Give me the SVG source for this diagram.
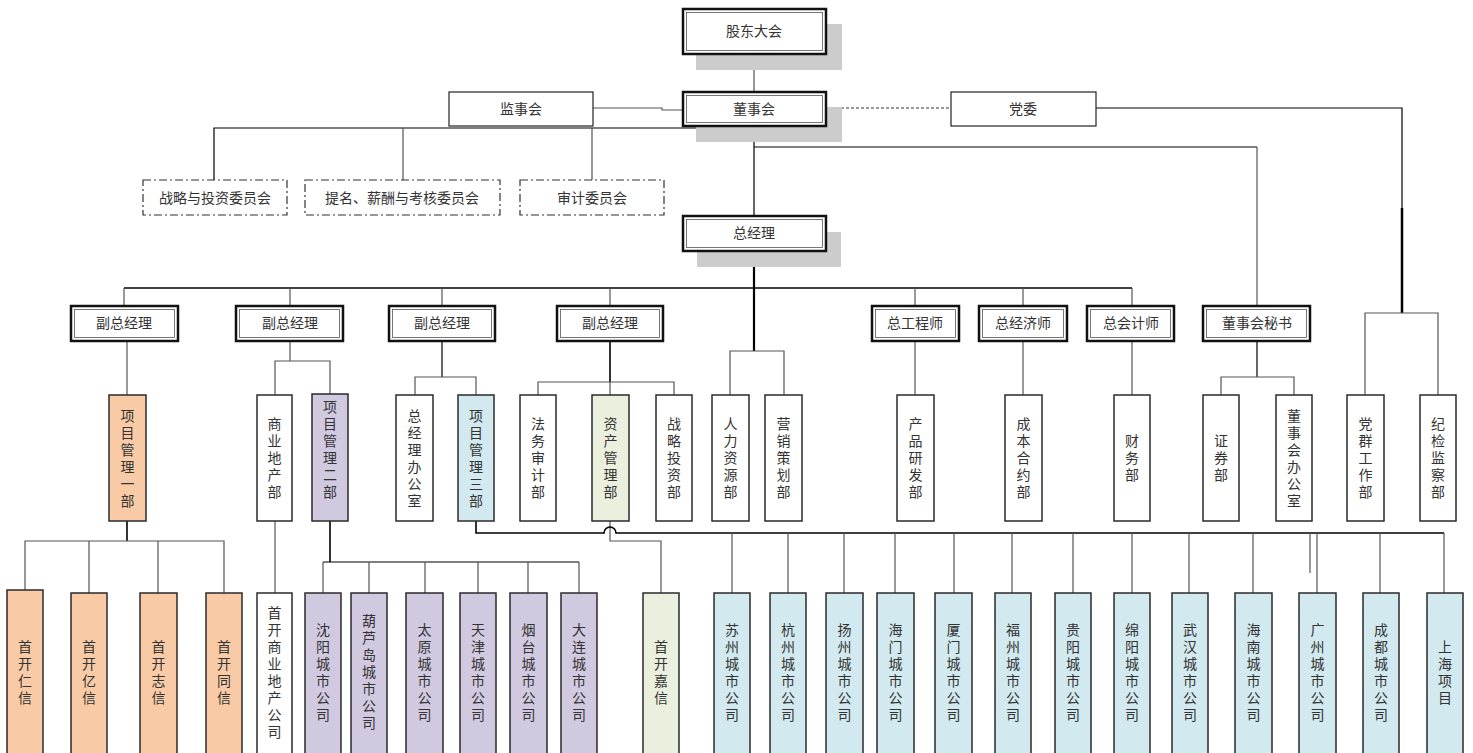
<svg xmlns="http://www.w3.org/2000/svg" width="1473" height="753" viewBox="0 0 1473 753">
<style>
.t{font-family:"Noto Sans CJK SC","Noto Sans CJK JP",sans-serif;font-size:14px;fill:#333;text-anchor:middle}
.v{font-family:"Noto Sans CJK SC","Noto Sans CJK JP",sans-serif;font-size:14px;fill:#333;text-anchor:middle;writing-mode:vertical-rl;text-orientation:upright;letter-spacing:3px}
.sh{fill:#cccccc}
.ob{fill:#fff;stroke:#111;stroke-width:2.5}
.ib{fill:none;stroke:#555;stroke-width:0.8}
.sb{fill:#fff;stroke:#222;stroke-width:1.2}
.cm{fill:#fff;stroke:#333;stroke-width:1.2;stroke-dasharray:8 3 2 3}
.d{stroke:#2a2a2a;stroke-width:1.5}
.w{fill:#fff}.o{fill:#f8cba6}.p{fill:#d1c9e0}.b{fill:#d2e9ef}.g{fill:#ebf0de}
.bus{stroke:#000;stroke-width:1.6;fill:none}
.ln{stroke:#555;stroke-width:1.2;fill:none}
.dl{stroke:#333;stroke-width:1;fill:none;stroke-dasharray:3 2}
</style>

<g id="connectors">
  <path class="ln" d="M754,54 V92"/>
  <path class="ln" d="M593,108 H662 V110 H683"/>
  <path class="dl" d="M826,108 H951"/>
  <path class="bus" style="stroke-width:1.2" d="M214,180 V128 H754"/>
  <path class="ln" d="M403,128 V180 M592,128 V180"/>
  <path class="bus" style="stroke-width:1.2" d="M754,126 V216"/>
  <path class="bus" style="stroke-width:1.2" d="M754,147 H1257"/>
  <path class="ln" d="M1257,147 V306"/>
  <path class="bus" style="stroke-width:1.2" d="M1096,108 H1402 V208"/>
  <path class="bus" style="stroke-width:2.5" d="M1402,208 V313"/>
  <path class="ln" d="M1365,395 V313 H1438 V395"/>
  <path class="bus" style="stroke-width:2.2" d="M754,250 V351"/>
  <path class="bus" d="M124,288 H1132"/>
  <path class="ln" d="M124,288 V306 M290,288 V306 M442,288 V306 M610,288 V306 M915,288 V306 M1023,288 V306 M1132,288 V306"/>
  <path class="ln" d="M127,341 V395"/>
  <path class="ln" d="M290,341 V361 M275,395 V361 H330 V394"/>
  <path class="bus" style="stroke-width:1.2" d="M442,341 V377"/>
  <path class="ln" d="M415,395 V377 H476 V395"/>
  <path class="bus" d="M610,341 V382"/>
  <path class="ln" d="M538,395 V382 H674 V395 M610,382 V395"/>
  <path class="ln" d="M730,395 V351 H784 V395"/>
  <path class="ln" d="M915,341 V395 M1023,341 V395 M1132,341 V395"/>
  <path class="bus" style="stroke-width:1.2" d="M1257,341 V377"/>
  <path class="ln" d="M1221,395 V377 H1294 V395"/>
  <path class="bus" d="M127,521 V541"/>
  <path class="ln" d="M25,590 V541 H224 V593 M89,541 V593 M158,541 V593"/>
  <path class="ln" d="M275,521 V593"/>
  <path class="bus" d="M330,521 V562"/>
  <path class="bus" style="stroke-width:1.2" d="M323,562 H579"/>
  <path class="ln" d="M323,562 V593 M369,562 V593 M425,562 V593 M478,562 V593 M528,562 V593 M579,562 V593"/>
  <path class="ln" d="M610,521 V541 H661 V593"/>
  <path class="bus" d="M476,521 V533 H604 A6,6 0 0 1 616,533 H1444"/>
  <path class="ln" d="M732,533 V593 M788,533 V593 M844,533 V593 M895,533 V593 M954,533 V593 M1012,533 V593 M1073,533 V593 M1132,533 V593 M1189,533 V593 M1253,533 V593 M1317,533 V593 M1380,533 V593 M1444,533 V593"/>
  <path class="ln" d="M1310,533 V573"/>
</g>

<g id="gdh">
  <rect class="sh" x="696" y="24" width="146" height="46"/>
  <rect class="ob" x="683" y="9" width="143" height="45"/>
  <rect class="ib" x="686.5" y="12.5" width="136" height="38"/>
  <text class="t" x="754" y="36">股东大会</text>
</g>
<g id="dsh">
  <rect class="sh" x="696" y="107" width="146" height="35"/>
  <rect class="ob" x="683" y="92" width="143" height="34"/>
  <rect class="ib" x="686.5" y="95.5" width="136" height="27"/>
  <text class="t" x="754" y="114">董事会</text>
</g>
<g id="jsh">
  <rect class="sb" x="449" y="92" width="144" height="34"/>
  <text class="t" x="521" y="114">监事会</text>
</g>
<g id="dw">
  <rect class="sb" x="951" y="92" width="145" height="34"/>
  <text class="t" x="1023" y="114">党委</text>
</g>
<g id="c1">
  <rect class="cm" x="143" y="180" width="144" height="35"/>
  <text class="t" x="215" y="203">战略与投资委员会</text>
</g>
<g id="c2">
  <rect class="cm" x="305" y="180" width="195" height="35"/>
  <text class="t" x="402" y="203">提名、薪酬与考核委员会</text>
</g>
<g id="c3">
  <rect class="cm" x="520" y="180" width="144" height="35"/>
  <text class="t" x="592" y="203">审计委员会</text>
</g>
<g id="zjl">
  <rect class="sh" x="697" y="232" width="144" height="35"/>
  <rect class="ob" x="683" y="216" width="143" height="35"/>
  <rect class="ib" x="686.5" y="219.5" width="136" height="28"/>
  <text class="t" x="754" y="238">总经理</text>
</g>

<g id="v1"><rect class="ob" x="71" y="306" width="107" height="35"/><rect class="ib" x="74.5" y="309.5" width="100" height="28"/><text class="t" x="124" y="328">副总经理</text></g>
<g id="v2"><rect class="ob" x="236" y="306" width="107" height="35"/><rect class="ib" x="239.5" y="309.5" width="100" height="28"/><text class="t" x="290" y="328">副总经理</text></g>
<g id="v3"><rect class="ob" x="389" y="306" width="106" height="35"/><rect class="ib" x="392.5" y="309.5" width="99" height="28"/><text class="t" x="442" y="328">副总经理</text></g>
<g id="v4"><rect class="ob" x="557" y="306" width="106" height="35"/><rect class="ib" x="560.5" y="309.5" width="99" height="28"/><text class="t" x="610" y="328">副总经理</text></g>
<g id="zgcs"><rect class="ob" x="872" y="306" width="87" height="35"/><rect class="ib" x="875.5" y="309.5" width="80" height="28"/><text class="t" x="915" y="328">总工程师</text></g>
<g id="zjjs"><rect class="ob" x="979" y="306" width="88" height="35"/><rect class="ib" x="982.5" y="309.5" width="81" height="28"/><text class="t" x="1023" y="328">总经济师</text></g>
<g id="zkjs"><rect class="ob" x="1087" y="306" width="87" height="35"/><rect class="ib" x="1090.5" y="309.5" width="80" height="28"/><text class="t" x="1131" y="328">总会计师</text></g>
<g id="dms"><rect class="ob" x="1203" y="306" width="107" height="35"/><rect class="ib" x="1206.5" y="309.5" width="100" height="28"/><text class="t" x="1257" y="328">董事会秘书</text></g>

<g id="xm1"><rect class="d o" x="109" y="395" width="37" height="126"/><text class="v" x="127.5" y="459.5">项目管理一部</text></g>
<g id="sydc"><rect class="d w" x="257" y="395" width="35" height="126"/><text class="v" x="274.5" y="459.5">商业地产部</text></g>
<g id="xm2"><rect class="d p" x="312" y="394" width="36" height="127"/><text class="v" x="330" y="450.5">项目管理二部</text></g>
<g id="zjlb"><rect class="d w" x="396" y="395" width="37" height="126"/><text class="v" x="414.5" y="459.5">总经理办公室</text></g>
<g id="xm3"><rect class="d b" x="458" y="395" width="36" height="126"/><text class="v" x="476" y="459.5">项目管理三部</text></g>
<g id="fwsj"><rect class="d w" x="520" y="395" width="36" height="126"/><text class="v" x="538" y="459.5">法务审计部</text></g>
<g id="zcgl"><rect class="d g" x="592" y="395" width="37" height="126"/><text class="v" x="610.5" y="459.5">资产管理部</text></g>
<g id="zltz"><rect class="d w" x="656" y="395" width="36" height="126"/><text class="v" x="674" y="459.5">战略投资部</text></g>
<g id="rlzy"><rect class="d w" x="712" y="395" width="37" height="126"/><text class="v" x="730.5" y="459.5">人力资源部</text></g>
<g id="yxch"><rect class="d w" x="765" y="395" width="37" height="126"/><text class="v" x="783.5" y="459.5">营销策划部</text></g>
<g id="cpyf"><rect class="d w" x="897" y="395" width="37" height="126"/><text class="v" x="915.5" y="459.5">产品研发部</text></g>
<g id="cbhy"><rect class="d w" x="1005" y="395" width="37" height="126"/><text class="v" x="1023.5" y="459.5">成本合约部</text></g>
<g id="cwb"><rect class="d w" x="1114" y="395" width="36" height="126"/><text class="v" x="1132" y="459.5">财务部</text></g>
<g id="zqb"><rect class="d w" x="1203" y="395" width="36" height="126"/><text class="v" x="1221" y="459.5">证券部</text></g>
<g id="dshb"><rect class="d w" x="1276" y="395" width="36" height="126"/><text class="v" x="1294" y="459.5">董事会办公室</text></g>
<g id="dqgz"><rect class="d w" x="1347" y="395" width="37" height="126"/><text class="v" x="1365.5" y="459.5">党群工作部</text></g>
<g id="jjjc"><rect class="d w" x="1420" y="395" width="36" height="126"/><text class="v" x="1438" y="459.5">纪检监察部</text></g>

<g id="rx"><rect class="d o" x="7" y="590" width="36" height="170"/><text class="v" x="25" y="673.5">首开仁信</text></g>
<g id="yx"><rect class="d o" x="71" y="593" width="36" height="167"/><text class="v" x="89" y="673.5">首开亿信</text></g>
<g id="zx"><rect class="d o" x="140" y="593" width="37" height="167"/><text class="v" x="158.5" y="673.5">首开志信</text></g>
<g id="tx"><rect class="d o" x="206" y="593" width="36" height="167"/><text class="v" x="224" y="673.5">首开同信</text></g>
<g id="sysy"><rect class="d w" x="257" y="593" width="35" height="167"/><text class="v" x="274.5" y="673.5">首开商业地产公司</text></g>
<g id="sy"><rect class="d p" x="305" y="593" width="36" height="167"/><text class="v" x="323" y="673.5">沈阳城市公司</text></g>
<g id="hld"><rect class="d p" x="351" y="593" width="36" height="167"/><text class="v" x="369" y="673.5">葫芦岛城市公司</text></g>
<g id="ty"><rect class="d p" x="406" y="593" width="37" height="167"/><text class="v" x="424.5" y="673.5">太原城市公司</text></g>
<g id="tj"><rect class="d p" x="460" y="593" width="36" height="167"/><text class="v" x="478" y="673.5">天津城市公司</text></g>
<g id="yt"><rect class="d p" x="510" y="593" width="37" height="167"/><text class="v" x="528.5" y="673.5">烟台城市公司</text></g>
<g id="dl"><rect class="d p" x="561" y="593" width="36" height="167"/><text class="v" x="579" y="673.5">大连城市公司</text></g>
<g id="jx"><rect class="d g" x="643" y="593" width="36" height="167"/><text class="v" x="661" y="673.5">首开嘉信</text></g>
<g id="suz"><rect class="d b" x="714" y="593" width="36" height="167"/><text class="v" x="732" y="673.5">苏州城市公司</text></g>
<g id="hz"><rect class="d b" x="770" y="593" width="36" height="167"/><text class="v" x="788" y="673.5">杭州城市公司</text></g>
<g id="yz"><rect class="d b" x="826" y="593" width="37" height="167"/><text class="v" x="844.5" y="673.5">扬州城市公司</text></g>
<g id="hm"><rect class="d b" x="877" y="593" width="37" height="167"/><text class="v" x="895.5" y="673.5">海门城市公司</text></g>
<g id="xmc"><rect class="d b" x="935" y="593" width="37" height="167"/><text class="v" x="953.5" y="673.5">厦门城市公司</text></g>
<g id="fz"><rect class="d b" x="995" y="593" width="36" height="167"/><text class="v" x="1013" y="673.5">福州城市公司</text></g>
<g id="gy"><rect class="d b" x="1055" y="593" width="36" height="167"/><text class="v" x="1073" y="673.5">贵阳城市公司</text></g>
<g id="my"><rect class="d b" x="1114" y="593" width="36" height="167"/><text class="v" x="1132" y="673.5">绵阳城市公司</text></g>
<g id="wh"><rect class="d b" x="1172" y="593" width="36" height="167"/><text class="v" x="1190" y="673.5">武汉城市公司</text></g>
<g id="hn"><rect class="d b" x="1235" y="593" width="37" height="167"/><text class="v" x="1253.5" y="673.5">海南城市公司</text></g>
<g id="gz"><rect class="d b" x="1299" y="593" width="37" height="167"/><text class="v" x="1317.5" y="673.5">广州城市公司</text></g>
<g id="cd"><rect class="d b" x="1363" y="593" width="36" height="167"/><text class="v" x="1381" y="673.5">成都城市公司</text></g>
<g id="sh"><rect class="d b" x="1427" y="593" width="36" height="167"/><text class="v" x="1445" y="673.5">上海项目</text></g>
</svg>
